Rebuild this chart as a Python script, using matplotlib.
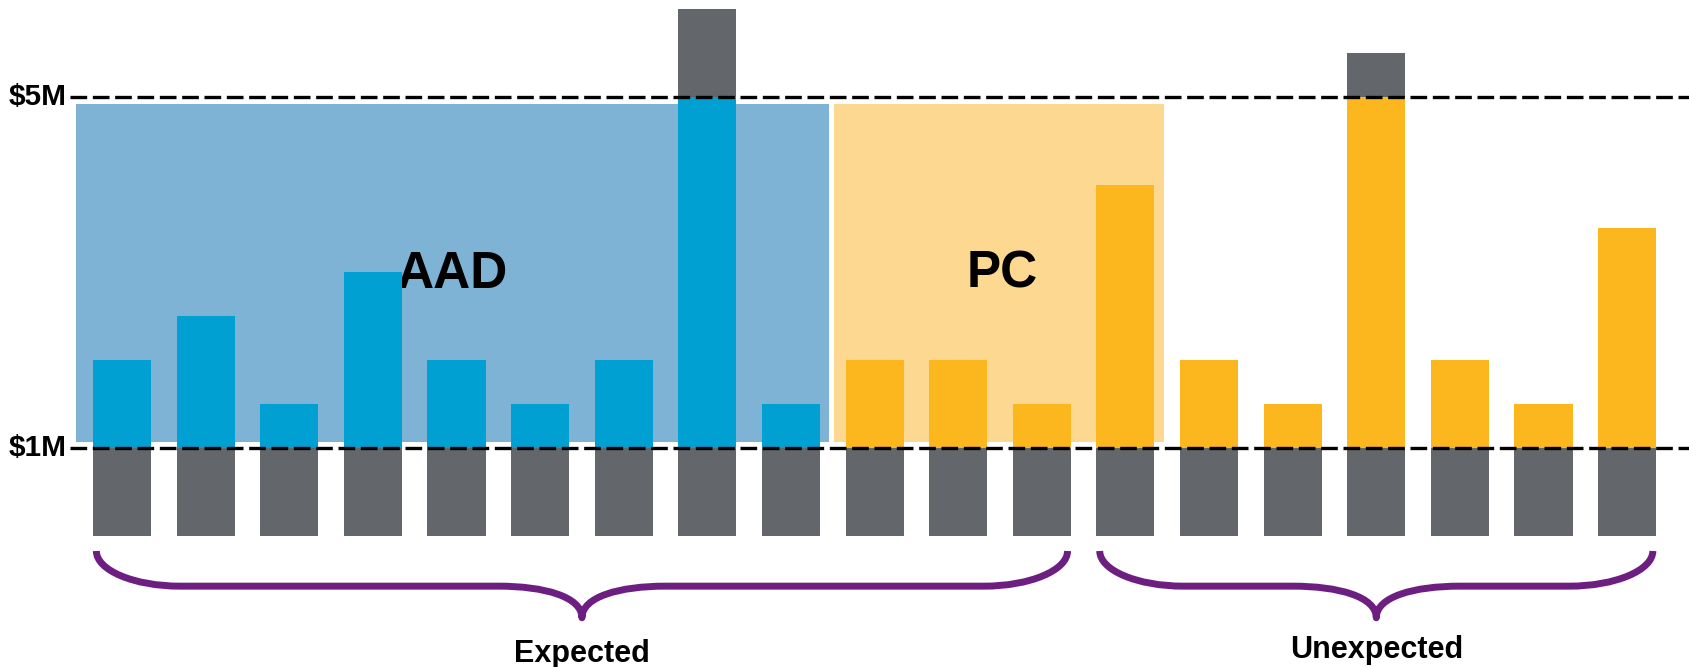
import matplotlib
matplotlib.use('Agg')
import matplotlib.pyplot as plt
import matplotlib.patches as patches
from matplotlib.path import Path
import numpy as np

# values in $M, one bar per case
aad_values = [2.0, 2.5, 1.5, 3.0, 2.0, 1.5, 2.0, 6.0, 1.5]
pc_values = [2.0, 2.0, 1.5, 4.0, 2.0, 1.5, 5.5, 2.0, 1.5, 3.5]
base_level = 1.0   # $1M deductible line
cap_level = 5.0    # $5M limit line
tick_values = [1.0, 5.0]
tick_labels = ['$1M', '$5M']
group_labels = ['Expected', 'Unexpected']
box_labels = ['AAD', 'PC']

BLUE = '#00A0D2'
BLUE_BOX = '#7EB3D6'
ORANGE = '#FDB71E'
ORANGE_BOX = '#FDD891'
GRAY = '#63666A'
PURPLE = '#6C1F80'

values = np.array(aad_values + pc_values)
n = len(values)
x = np.arange(n)
colors = [BLUE] * len(aad_values) + [ORANGE] * len(pc_values)
width = 0.695

fig = plt.figure(figsize=(16.89, 6.67), dpi=100)
ax = fig.add_axes([0, 0, 1, 1])
ax.set_xlim(-1.46, 18.74)
ax.set_ylim(-1.49, 6.10)
ax.axis('off')

# shaded group boxes
ax.add_patch(patches.Rectangle((-0.55, 1.07), 9.0, 3.85, facecolor=BLUE_BOX,
                               edgecolor='none', zorder=1))
ax.add_patch(patches.Rectangle((8.51, 1.07), 3.95, 3.85, facecolor=ORANGE_BOX,
                               edgecolor='none', zorder=1))
ax.text(3.95, 2.98, box_labels[0], ha='center', va='center', fontsize=37,
        fontweight='bold', family='Liberation Sans', zorder=1.5)
ax.text(10.52, 2.98, box_labels[1], ha='center', va='center', fontsize=37,
        fontweight='bold', family='Liberation Sans', zorder=1.5)

# gray retained part, colored part, gray excess above the cap
ax.bar(x, base_level, width=width, bottom=0, color=GRAY, zorder=2)
colored = np.minimum(values, cap_level) - base_level
ax.bar(x, colored, width=width, bottom=base_level, color=colors, zorder=2)
excess = np.maximum(values - cap_level, 0)
ax.bar(x, excess, width=width, bottom=cap_level, color=GRAY, zorder=2)

# dashed reference lines
for v, lab in zip(tick_values, tick_labels):
    ax.plot([-0.62, 18.74], [v, v], color='black', lw=2.4,
            dashes=(5, 1.7), zorder=3)
    ax.text(-0.66, v, lab, ha='right', va='center', fontsize=21.5,
            fontweight='bold', family='Liberation Sans')


def brace(ax, x0, x1, y_top, y_mid, y_tip, r=1.0, r2=1.0):
    xc = (x0 + x1) / 2
    h = y_top - y_mid
    verts = [
        (x0, y_top),
        (x0, y_top - 0.55 * h), (x0 + 0.45 * r, y_mid), (x0 + r, y_mid),
        (xc - r2, y_mid),
        (xc - r2 * 0.45, y_mid), (xc, y_mid - 0.12), (xc, y_tip),
        (xc, y_mid - 0.12), (xc + r2 * 0.45, y_mid), (xc + r2, y_mid),
        (x1 - r, y_mid),
        (x1 - 0.45 * r, y_mid), (x1, y_top - 0.55 * h), (x1, y_top),
    ]
    codes = [Path.MOVETO,
             Path.CURVE4, Path.CURVE4, Path.CURVE4,
             Path.LINETO,
             Path.CURVE4, Path.CURVE4, Path.CURVE4,
             Path.CURVE4, Path.CURVE4, Path.CURVE4,
             Path.LINETO,
             Path.CURVE4, Path.CURVE4, Path.CURVE4]
    ax.add_patch(patches.PathPatch(Path(verts, codes), facecolor='none',
                                   edgecolor=PURPLE, lw=5, capstyle='butt',
                                   joinstyle='round'))
    return xc


half = width / 2
c1 = brace(ax, 0 - half + 0.04, 11 + half - 0.04, -0.17, -0.57, -0.93)
c2 = brace(ax, 12 - half + 0.04, 18 + half - 0.04, -0.17, -0.57, -0.93)
ax.text(c1, -1.17, group_labels[0], ha='center', va='top', fontsize=22,
        fontweight='bold', family='Liberation Sans')
ax.text(c2, -1.13, group_labels[1], ha='center', va='top', fontsize=22,
        fontweight='bold', family='Liberation Sans')

fig.savefig('out.png', dpi=100)
